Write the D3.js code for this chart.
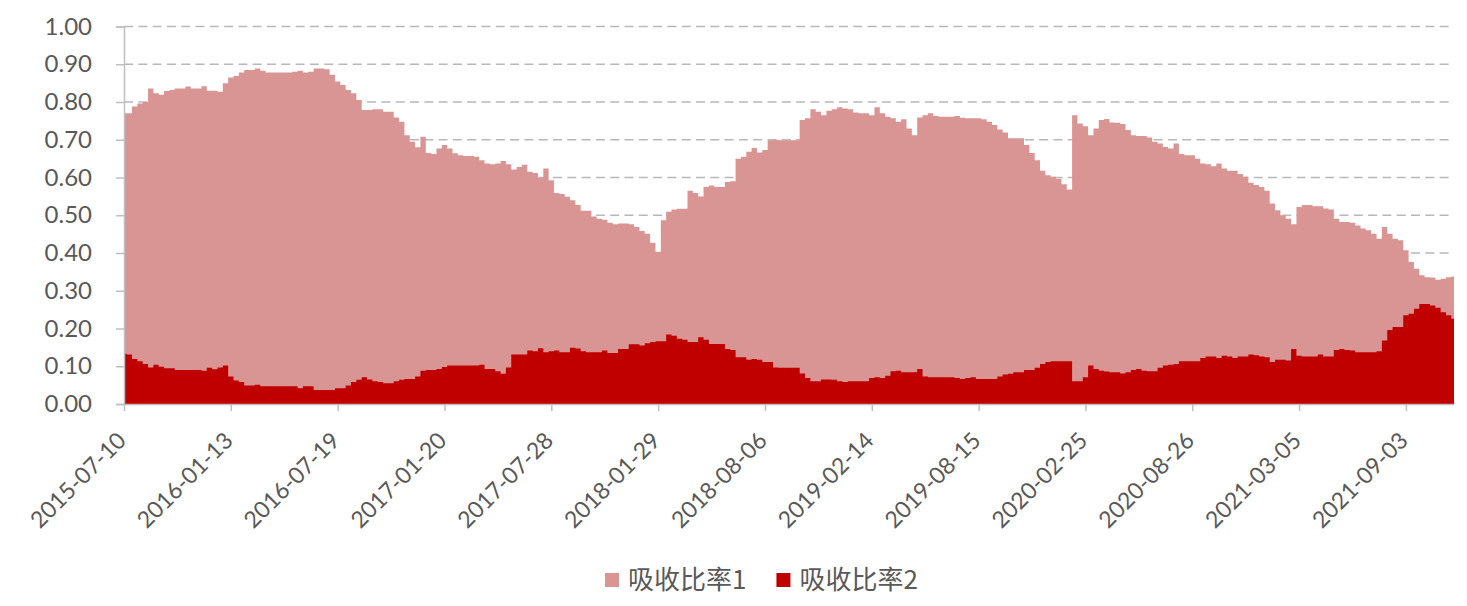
<!DOCTYPE html>
<html>
<head>
<meta charset="utf-8">
<script src="https://cdn.jsdelivr.net/npm/d3@7"></script>
<style>
  body { margin: 0; background: #fff; }
  text { font-family: Lato, "Noto Sans CJK SC", sans-serif; fill: #595959; }
</style>
</head>
<body>
<svg id="chart" width="1467" height="606"></svg>
<script>
// ===== data =====
// x tick labels, one every 20 samples
const tickLabels = ['2015-07-10', '2016-01-13', '2016-07-19', '2017-01-20', '2017-07-28',
  '2018-01-29', '2018-08-06', '2019-02-14', '2019-08-15', '2020-02-25', '2020-08-26',
  '2021-03-05', '2021-09-03'];
const tickEvery = 20;

const seriesNames = ['吸收比率1', '吸收比率2'];

const ratio1 = [
  .770, .770, .788, .796, .800, .836, .823, .819, .829, .832,
  .836, .836, .841, .836, .836, .842, .830, .830, .827, .850,
  .865, .869, .878, .885, .885, .889, .883, .878, .878, .878,
  .878, .878, .880, .883, .878, .880, .889, .889, .887, .872,
  .854, .845, .832, .823, .805, .779, .779, .781, .781, .774,
  .774, .759, .748, .712, .695, .680, .708, .665, .662, .677,
  .686, .677, .664, .659, .657, .657, .655, .646, .637, .635,
  .637, .644, .635, .621, .628, .634, .615, .612, .600, .624,
  .593, .559, .556, .549, .540, .527, .512, .512, .497, .491,
  .488, .480, .476, .478, .478, .476, .469, .458, .451, .427,
  .403, .487, .509, .515, .517, .517, .565, .559, .550, .575,
  .579, .575, .575, .588, .590, .650, .655, .668, .678, .666,
  .673, .699, .700, .699, .699, .699, .699, .752, .757, .781,
  .774, .765, .777, .781, .786, .783, .781, .772, .770, .770,
  .765, .786, .770, .761, .757, .748, .754, .730, .712, .759,
  .765, .770, .763, .761, .761, .761, .763, .758, .757, .757,
  .757, .754, .748, .739, .727, .719, .704, .704, .704, .686,
  .665, .646, .618, .606, .602, .597, .582, .568, .765, .743,
  .736, .712, .730, .752, .755, .746, .745, .742, .726, .712,
  .710, .710, .706, .695, .690, .681, .677, .690, .662, .659,
  .659, .650, .637, .635, .630, .637, .624, .618, .618, .609,
  .602, .586, .580, .575, .565, .531, .513, .500, .491, .476,
  .522, .527, .527, .524, .524, .518, .515, .491, .482, .482,
  .480, .473, .465, .460, .451, .438, .469, .451, .438, .434,
  .407, .376, .358, .341, .336, .335, .329, .332, .336, .338
];

// 吸收比率2
const ratio2 = [
  .133, .131, .119, .113, .106, .097, .104, .099, .095, .095,
  .090, .090, .090, .090, .090, .088, .096, .092, .097, .102,
  .073, .062, .058, .049, .049, .051, .047, .047, .047, .047,
  .047, .047, .047, .042, .047, .047, .037, .037, .037, .037,
  .042, .042, .049, .058, .064, .071, .065, .060, .058, .055,
  .055, .060, .064, .066, .066, .073, .088, .090, .090, .093,
  .098, .102, .102, .102, .102, .102, .102, .104, .093, .093,
  .087, .080, .097, .131, .131, .131, .142, .140, .148, .137,
  .140, .142, .137, .137, .149, .147, .140, .137, .137, .137,
  .142, .135, .135, .146, .146, .158, .158, .155, .161, .164,
  .166, .166, .184, .181, .173, .170, .164, .164, .177, .170,
  .159, .159, .159, .146, .143, .124, .124, .117, .119, .117,
  .111, .111, .097, .096, .096, .096, .096, .081, .069, .060,
  .060, .065, .065, .064, .060, .058, .060, .060, .060, .060,
  .069, .071, .069, .075, .087, .088, .084, .084, .084, .093,
  .073, .071, .071, .071, .071, .071, .069, .066, .069, .071,
  .066, .066, .066, .066, .073, .078, .080, .084, .084, .090,
  .090, .096, .106, .111, .113, .113, .113, .113, .060, .060,
  .071, .102, .093, .088, .086, .084, .084, .081, .084, .090,
  .093, .088, .087, .087, .096, .102, .104, .106, .113, .113,
  .113, .113, .122, .126, .126, .122, .128, .126, .122, .126,
  .126, .131, .129, .126, .124, .111, .117, .117, .115, .146,
  .128, .126, .126, .126, .131, .126, .126, .143, .146, .143,
  .142, .137, .137, .137, .137, .140, .168, .196, .204, .204,
  .235, .239, .252, .265, .265, .261, .255, .243, .235, .226
];

const yTicks = [0, .1, .2, .3, .4, .5, .6, .7, .8, .9, 1];
const colors = ['#d99594', '#c00000'];

// ===== layout =====
const svg = d3.select('#chart');
const plot = { left: 124, right: 1454, top: 26.5, bottom: 404 };
const axisColor = '#bfbfbf';

const x = d3.scaleLinear().domain([0, ratio1.length - 1]).range([plot.left, plot.right]);
const y = d3.scaleLinear().domain([0, 1]).range([plot.bottom, plot.top]);

// gridlines
svg.append('g')
  .selectAll('line')
  .data(yTicks.slice(1))
  .join('line')
    .attr('x1', plot.left).attr('x2', plot.right)
    .attr('y1', d => y(d)).attr('y2', d => y(d))
    .attr('stroke', '#b8b8b8')
    .attr('stroke-width', 1.6)
    .attr('stroke-dasharray', '9,5.3');

// areas
const area = d3.area()
  .x((d, i) => x(i))
  .y0(y(0))
  .y1(d => y(d))
  .curve(d3.curveStep);

svg.append('path').datum(ratio1).attr('d', area).attr('fill', colors[0]);
svg.append('path').datum(ratio2).attr('d', area).attr('fill', colors[1]);

// y axis
const yAxis = svg.append('g')
  .attr('transform', `translate(${plot.left},0)`)
  .call(d3.axisLeft(y).tickValues(yTicks).tickFormat(d3.format('.2f')).tickSize(8).tickPadding(24));
yAxis.select('.domain').attr('stroke', axisColor).attr('stroke-width', 1.5);
yAxis.selectAll('.tick line').attr('stroke', axisColor).attr('stroke-width', 1.5);
yAxis.selectAll('.tick text')
  .attr('font-size', 24)
  .attr('fill', '#595959')
  .style('font-family', 'Lato, sans-serif');

// x axis
const xTickVals = tickLabels.map((_, i) => i * tickEvery);
const xAxis = svg.append('g')
  .attr('transform', `translate(0,${plot.bottom})`)
  .call(d3.axisBottom(x).tickValues(xTickVals).tickFormat((d, i) => tickLabels[i]).tickSize(7).tickSizeOuter(0));
xAxis.select('.domain').attr('stroke', axisColor).attr('stroke-width', 1.5);
xAxis.selectAll('.tick line').attr('stroke', axisColor).attr('stroke-width', 1.5);
xAxis.selectAll('.tick text')
  .attr('font-size', 23)
  .attr('fill', '#595959')
  .style('font-family', 'Lato, sans-serif')
  .attr('text-anchor', 'end')
  .attr('dy', 0)
  .attr('y', 0)
  .attr('transform', 'translate(3,38) rotate(-45)');

// legend
const legend = svg.append('g').attr('transform', 'translate(605,580)');
let lx = 0;
seriesNames.forEach((name, i) => {
  const g = legend.append('g').attr('transform', `translate(${lx},0)`);
  g.append('rect')
    .attr('x', 0).attr('y', -7)
    .attr('width', 14).attr('height', 14)
    .attr('fill', colors[i]);
  const t = g.append('text')
    .attr('x', 23).attr('y', 0)
    .attr('dy', '0.35em')
    .attr('font-size', 26)
    .style('font-family', '"Noto Sans CJK SC", sans-serif')
    .text(name);
  lx += 23 + t.node().getComputedTextLength() + 30;
});
</script>
</body>
</html>
